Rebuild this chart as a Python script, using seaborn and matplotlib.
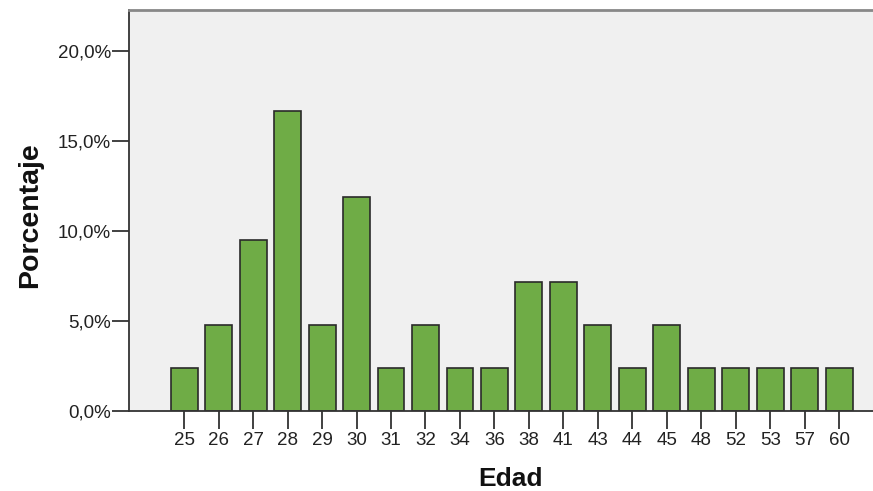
import matplotlib
matplotlib.use("Agg")
import matplotlib.pyplot as plt
import seaborn as sns
import pandas as pd
from matplotlib.ticker import FuncFormatter

edades = ["25", "26", "27", "28", "29", "30", "31", "32", "34", "36",
          "38", "41", "43", "44", "45", "48", "52", "53", "57", "60"]
porcentaje = [2.38, 4.76, 9.52, 16.67, 4.76, 11.90, 2.38, 4.76, 2.38, 2.38,
              7.14, 7.14, 4.76, 2.38, 4.76, 2.38, 2.38, 2.38, 2.38, 2.38]

df = pd.DataFrame({"Edad": edades, "Porcentaje": porcentaje})

sns.set_style("white")
plt.rcParams["font.family"] = ["Liberation Sans", "DejaVu Sans"]

W, H = 873, 491
fig = plt.figure(figsize=(W / 100, H / 100), dpi=100)
ax = fig.add_axes([129 / W, 80 / H, 1 - 129 / W + 0.06, 401 / H])
ax.set_facecolor("#F0F0F0")

sns.barplot(data=df, x="Edad", y="Porcentaje", order=edades, color="#6FAC46",
            saturation=1, width=0.78, edgecolor="#2a2a2a", linewidth=1.2, ax=ax)

ax.set_xlim(-1.6, 21.5)
ax.set_ylim(0, 22.27)
ax.set_yticks([0, 5, 10, 15, 20])
ax.yaxis.set_major_formatter(FuncFormatter(lambda v, p: f"{v:.1f}%".replace(".", ",")))

for s in ["left", "bottom"]:
    ax.spines[s].set_color("#333333")
    ax.spines[s].set_linewidth(1.3)
ax.spines["top"].set_color("#888888")
ax.spines["top"].set_linewidth(2)
ax.spines["right"].set_visible(False)

ax.tick_params(axis="y", direction="out", length=12, width=1.3, color="#333333",
               labelsize=13.5, labelcolor="#222222", pad=1, left=True)
ax.tick_params(axis="x", direction="out", length=13, width=1.3, color="#333333",
               labelsize=13.5, labelcolor="#222222", pad=2, bottom=True)

ax.set_xlabel("Edad", fontsize=19, fontweight="bold", color="#111111")
ax.set_ylabel("Porcentaje", fontsize=20.5, fontweight="bold", color="#111111")
ax.xaxis.label.set_va("center")
ax.yaxis.label.set_va("center")
ax.xaxis.set_label_coords(511 / W, (H - 479) / H, transform=fig.transFigure)
ax.yaxis.set_label_coords(30 / W, (H - 215) / H, transform=fig.transFigure)

fig.savefig("out.png", dpi=100)
